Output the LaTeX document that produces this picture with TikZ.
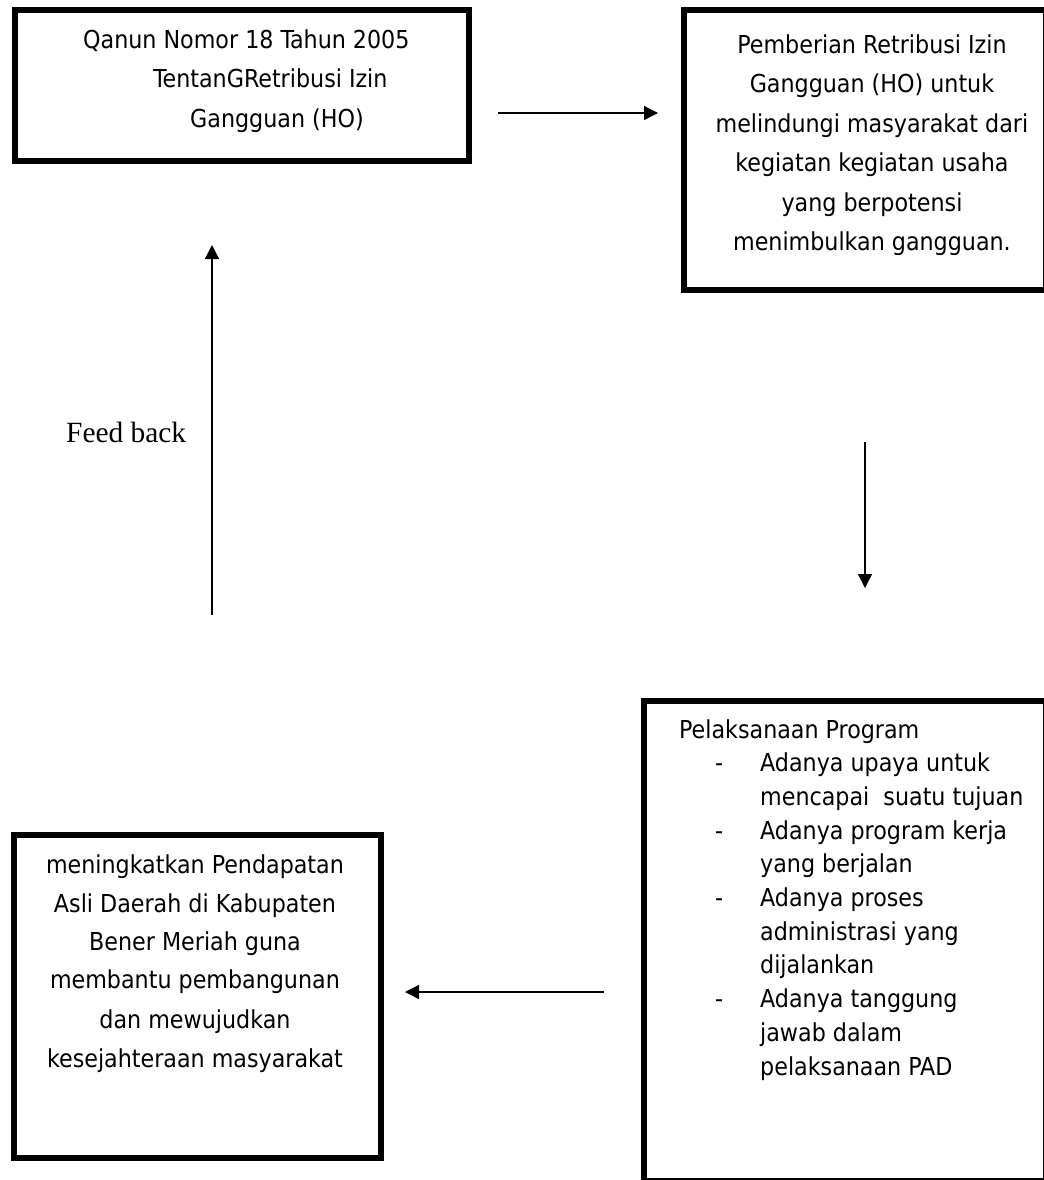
\documentclass[tikz,border=0pt]{standalone}
\usepackage{fontspec}
\setmainfont{Liberation Serif}
\newfontfamily\boxfont{DejaVu Sans Condensed}
\usetikzlibrary{arrows.meta}
\begin{document}
\begin{tikzpicture}[x=1bp,y=-1bp,
  box/.style={draw=black, line width=6bp, rectangle, inner sep=0pt, outer sep=0pt},
  txt/.style={font=\boxfont\fontsize{24.8}{39.5}\selectfont, inner sep=0pt, anchor=base},
  txtl/.style={txt, anchor=base west},
  fb/.style={font=\fontsize{29.5}{34}\selectfont, inner sep=0pt, anchor=base west},
  arr/.style={line width=1.3bp, -{Triangle[length=14bp,width=14bp]}}]
\useasboundingbox[fill=white] (0,0) rectangle (1044,1180);

% boxes
\node[box, minimum width=454bp, minimum height=151bp] (b1) at (242,85.5) {};
\node[box, minimum width=362bp, minimum height=280bp] (b2) at (865,150) {};
\node[box, minimum width=402bp, minimum height=480bp] (b3) at (845,941) {};
\node[box, minimum width=367bp, minimum height=323bp] (b4) at (197.5,996.5) {};

% box 1 text
\node[txtl] (t1a) at (83,48) {Qanun Nomor 18 Tahun 2005};
\node[txtl] (t1b) at (153,87) {TentanGRetribusi Izin};
\node[txtl] (t1c) at (190,127) {Gangguan (HO)};

% box 2 text
\node[txt] (t2a) at (872,53) {Pemberian Retribusi Izin};
\node[txt] (t2b) at (872,92.5) {Gangguan (HO) untuk};
\node[txt] (t2c) at (872,132) {melindungi masyarakat dari};
\node[txt] (t2d) at (872,171.5) {kegiatan kegiatan usaha};
\node[txt] (t2e) at (872,211) {yang berpotensi};
\node[txt] (t2f) at (872,250.5) {menimbulkan gangguan.};

% box 3 text
\node[txtl] (t3h) at (679,738) {Pelaksanaan Program};
\node[txtl] (d1) at (715,771.7) {-};
\node[txtl] (t3a) at (760,771.7) {Adanya upaya untuk};
\node[txtl] (t3b) at (760,805.4) {mencapai\ \ suatu tujuan};
\node[txtl] (d2) at (715,839.1) {-};
\node[txtl] (t3c) at (760,839.1) {Adanya program kerja};
\node[txtl] (t3d) at (760,872.8) {yang berjalan};
\node[txtl] (d3) at (715,906.5) {-};
\node[txtl] (t3e) at (760,906.5) {Adanya proses};
\node[txtl] (t3f) at (760,940.2) {administrasi yang};
\node[txtl] (t3g) at (760,973.9) {dijalankan};
\node[txtl] (d4) at (715,1007.6) {-};
\node[txtl] (t3i) at (760,1007.6) {Adanya tanggung};
\node[txtl] (t3j) at (760,1041.3) {jawab dalam};
\node[txtl] (t3k) at (760,1075) {pelaksanaan PAD};

% box 4 text
\node[txt] (t4a) at (195,873) {meningkatkan Pendapatan};
\node[txt] (t4b) at (195,912) {Asli Daerah di Kabupaten};
\node[txt] (t4c) at (195,950) {Bener Meriah guna};
\node[txt] (t4d) at (195,988.5) {membantu pembangunan};
\node[txt] (t4e) at (195,1028) {dan mewujudkan};
\node[txt] (t4f) at (195,1067) {kesejahteraan masyarakat};

% feedback label
\node[fb] (fbl) at (66,442) {Feed back};

% connectors
\coordinate (a1s) at (498,113);
\coordinate (a1e) at (658,113);
\coordinate (a2s) at (865,442);
\coordinate (a2e) at (865,588);
\coordinate (a3s) at (604,992);
\coordinate (a3e) at (405,992);
\coordinate (a4s) at (212,615);
\coordinate (a4e) at (212,245);
\draw[arr] (a1s) -- (a1e);
\draw[arr] (a2s) -- (a2e);
\draw[arr] (a3s) -- (a3e);
\draw[arr] (a4s) -- (a4e);
\end{tikzpicture}
\end{document}
